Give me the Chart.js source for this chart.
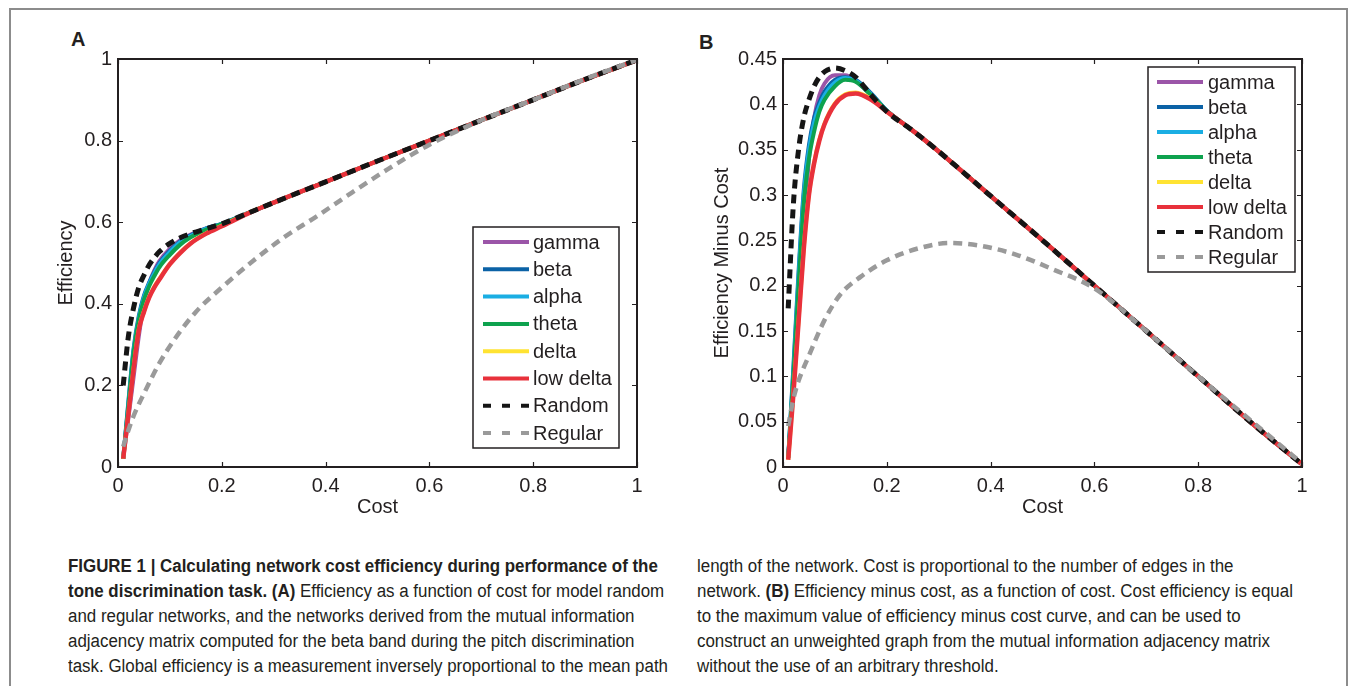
<!DOCTYPE html>
<html>
<head>
<meta charset="utf-8">
<script src="https://cdn.jsdelivr.net/npm/chart.js@4"></script>
<style>
  body { margin: 0; background: #fff; width: 1357px; height: 686px; overflow: hidden; position: relative;
         font-family: "Liberation Sans", Arial, sans-serif; }
  #frame { position: absolute; left: 9px; top: 8px; width: 1335px; height: 720px; border: 2px solid #8c8c8c; }
  canvas { position: absolute; }
  .panel { position: absolute; font-weight: bold; font-size: 20px; color: #231f20; }
  .cap { position: absolute; font-family: "Liberation Sans Narrow", "Liberation Sans", Arial, sans-serif;
         font-size: 18px; color: #231f20; white-space: nowrap; transform-origin: 0 0; line-height: 25px; }
</style>
</head>
<body>
<div id="frame"></div>
<div class="panel" style="left:71px;top:28px">A</div>
<div class="panel" style="left:699px;top:31px">B</div>
<canvas id="chartA" width="610" height="490" style="left:40px;top:40px"></canvas>
<canvas id="chartB" width="610" height="490" style="left:705px;top:40px"></canvas>

<div class="cap" style="left:68px;top:554px">
<div><b>FIGURE 1 | Calculating network cost efficiency during performance of the</b></div>
<div><b>tone discrimination task. (A)</b> Efficiency as a function of cost for model random</div>
<div>and regular networks, and the networks derived from the mutual information</div>
<div>adjacency matrix computed for the beta band during the pitch discrimination</div>
<div id="fitLine">task. Global efficiency is a measurement inversely proportional to the mean path</div>
</div>
<div class="cap" style="left:697px;top:554px">
<div>length of the network. Cost is proportional to the number of edges in the</div>
<div>network. <b>(B)</b> Efficiency minus cost, as a function of cost. Cost efficiency is equal</div>
<div>to the maximum value of efficiency minus cost curve, and can be used to</div>
<div>construct an unweighted graph from the mutual information adjacency matrix</div>
<div>without the use of an arbitrary threshold.</div>
</div>

<script>
// cost grid shared by the band curves and the random model
const cost = [0.01, 0.02, 0.03, 0.04, 0.05, 0.06, 0.07, 0.08, 0.1, 0.12, 0.14, 0.17, 0.2,
              0.25, 0.3, 0.4, 0.5, 0.6, 0.7, 0.8, 0.9, 1.0];
const regularCost = [0.01, 0.02, 0.03, 0.05, 0.08, 0.11, 0.15, 0.2, 0.26, 0.32, 0.38, 0.45,
                     0.52, 0.6, 0.7, 0.8, 0.9, 1.0];

// panel A: efficiency
const effGamma    = [0.02, 0.12, 0.22, 0.32, 0.40, 0.45, 0.482, 0.505, 0.535, 0.556, 0.57, 0.585, 0.596, 0.622, 0.648, 0.699, 0.75, 0.8, 0.85, 0.9, 0.95, 0.997];
const effBeta     = [0.02, 0.16, 0.29, 0.37, 0.42, 0.452, 0.478, 0.5, 0.53, 0.553, 0.568, 0.585, 0.596, 0.622, 0.648, 0.699, 0.75, 0.8, 0.85, 0.9, 0.95, 0.997];
const effAlpha    = [0.02, 0.155, 0.285, 0.365, 0.416, 0.449, 0.475, 0.497, 0.527, 0.551, 0.566, 0.584, 0.596, 0.622, 0.648, 0.699, 0.75, 0.8, 0.85, 0.9, 0.95, 0.997];
const effTheta    = [0.02, 0.15, 0.28, 0.36, 0.41, 0.443, 0.468, 0.49, 0.52, 0.545, 0.563, 0.582, 0.595, 0.622, 0.648, 0.699, 0.75, 0.8, 0.85, 0.9, 0.95, 0.997];
const effDelta    = [0.02, 0.132, 0.242, 0.337, 0.382, 0.417, 0.442, 0.462, 0.498, 0.526, 0.549, 0.573, 0.591, 0.622, 0.648, 0.699, 0.75, 0.8, 0.85, 0.9, 0.95, 0.997];
const effLowDelta = [0.02, 0.13, 0.24, 0.335, 0.38, 0.415, 0.44, 0.46, 0.497, 0.525, 0.548, 0.572, 0.59, 0.621, 0.648, 0.699, 0.75, 0.8, 0.85, 0.9, 0.95, 0.997];
const effRandom   = [0.2, 0.32, 0.39, 0.44, 0.47, 0.495, 0.513, 0.528, 0.548, 0.562, 0.572, 0.584, 0.596, 0.622, 0.648, 0.699, 0.75, 0.8, 0.85, 0.9, 0.95, 0.998];
const effRegular  = [0.05, 0.09, 0.125, 0.18, 0.255, 0.315, 0.38, 0.44, 0.505, 0.563, 0.612, 0.672, 0.73, 0.79, 0.85, 0.9, 0.951, 0.998];

// panel B: efficiency minus cost
const emcGamma    = [0.01, 0.09, 0.17, 0.26, 0.34, 0.385, 0.41, 0.423, 0.432, 0.432, 0.426, 0.41, 0.393, 0.371, 0.348, 0.299, 0.25, 0.2, 0.15, 0.1, 0.05, 0.003];
const emcBeta     = [0.01, 0.11, 0.215, 0.305, 0.355, 0.385, 0.402, 0.414, 0.427, 0.43, 0.427, 0.412, 0.393, 0.371, 0.348, 0.299, 0.25, 0.2, 0.15, 0.1, 0.05, 0.003];
const emcAlpha    = [0.01, 0.105, 0.21, 0.3, 0.35, 0.38, 0.398, 0.41, 0.424, 0.429, 0.426, 0.411, 0.393, 0.371, 0.348, 0.299, 0.25, 0.2, 0.15, 0.1, 0.05, 0.003];
const emcTheta    = [0.01, 0.1, 0.2, 0.29, 0.34, 0.37, 0.392, 0.405, 0.42, 0.427, 0.425, 0.41, 0.393, 0.371, 0.348, 0.299, 0.25, 0.2, 0.15, 0.1, 0.05, 0.003];
const emcDelta    = [0.008, 0.082, 0.162, 0.242, 0.301, 0.336, 0.361, 0.379, 0.401, 0.411, 0.413, 0.406, 0.392, 0.371, 0.348, 0.299, 0.25, 0.2, 0.15, 0.1, 0.05, 0.003];
const emcLowDelta = [0.008, 0.08, 0.16, 0.24, 0.3, 0.335, 0.36, 0.378, 0.4, 0.41, 0.412, 0.405, 0.392, 0.371, 0.348, 0.299, 0.25, 0.2, 0.15, 0.1, 0.05, 0.003];
const emcRandom   = [0.175, 0.29, 0.35, 0.385, 0.405, 0.42, 0.43, 0.436, 0.44, 0.437, 0.43, 0.41, 0.392, 0.371, 0.348, 0.299, 0.25, 0.2, 0.15, 0.1, 0.05, 0.003];
const emcRegular  = [0.045, 0.075, 0.095, 0.123, 0.162, 0.19, 0.21, 0.228, 0.241, 0.247, 0.244, 0.234, 0.218, 0.197, 0.15, 0.1, 0.052, 0.004];

const seriesNames = ['gamma', 'beta', 'alpha', 'theta', 'delta', 'low delta', 'Random', 'Regular'];
const colors = ['#9b55a8', '#0b62a6', '#1aaee3', '#0ea24e', '#ffe332', '#e8313b', '#151515', '#9a9a9a'];
const widths = [4, 4, 4, 4, 4, 4.5, 5, 4.5];
const xTicks = [0, 0.2, 0.4, 0.6, 0.8, 1];

Chart.defaults.font.family = '"Liberation Sans", Arial, sans-serif';
Chart.defaults.font.size = 20;
Chart.defaults.color = '#231f20';

function pts(xs, ys) { return xs.map((x, i) => ({ x: x, y: ys[i] })); }

function makeDatasets(lists) {
  return lists.map((ys, i) => ({
    label: seriesNames[i],
    data: pts(i === 7 ? regularCost : cost, ys),
    borderColor: colors[i],
    borderWidth: widths[i],
    borderDash: i >= 6 ? [9, 6] : [],
    borderCapStyle: 'butt',
    pointRadius: 0,
    cubicInterpolationMode: 'monotone',
    fill: false,
    order: 7 - i
  }));
}

// axes box with inward ticks on all four sides, like the original
const boxAxes = {
  id: 'boxAxes',
  afterDatasetsDraw(chart) {
    const { ctx, chartArea: a, scales } = chart;
    ctx.save();
    ctx.strokeStyle = '#231f20';
    ctx.lineWidth = 1.2;
    ctx.beginPath();
    scales.x.ticks.forEach(t => {
      const px = Math.round(scales.x.getPixelForValue(t.value)) + 0.5;
      ctx.moveTo(px, a.bottom); ctx.lineTo(px, a.bottom - 5);
      ctx.moveTo(px, a.top); ctx.lineTo(px, a.top + 5);
    });
    scales.y.ticks.forEach(t => {
      const py = Math.round(scales.y.getPixelForValue(t.value)) + 0.5;
      ctx.moveTo(a.left, py); ctx.lineTo(a.left + 5, py);
      ctx.moveTo(a.right, py); ctx.lineTo(a.right - 5, py);
    });
    ctx.stroke();
    ctx.lineWidth = 2;
    ctx.strokeRect(a.left, a.top, a.right - a.left, a.bottom - a.top);
    ctx.restore();
  }
};

// boxed legend inside the plot
const boxLegend = {
  id: 'boxLegend',
  afterDraw(chart, args, o) {
    const { ctx, chartArea: a } = chart;
    const x0 = a.left + o.left, y0 = a.top + o.top;
    ctx.save();
    ctx.fillStyle = '#fff';
    ctx.fillRect(x0, y0, o.width, o.height);
    ctx.strokeStyle = '#231f20';
    ctx.lineWidth = 1.5;
    ctx.strokeRect(x0, y0, o.width, o.height);
    ctx.font = '20px "Liberation Sans", Arial, sans-serif';
    ctx.textBaseline = 'middle';
    chart.data.datasets.forEach((d, i) => {
      const y = y0 + o.first + i * o.row;
      ctx.strokeStyle = d.borderColor;
      ctx.lineWidth = 4;
      ctx.setLineDash(d.borderDash.length ? [8, 11] : []);
      ctx.beginPath();
      ctx.moveTo(x0 + o.lineX, y); ctx.lineTo(x0 + o.lineX + 46, y);
      ctx.stroke();
      ctx.setLineDash([]);
      ctx.fillStyle = '#231f20';
      ctx.fillText(d.label, x0 + o.textX, y + 1);
    });
    ctx.restore();
  }
};

function fmt(v) { return String(Number(v.toFixed(2))); }

function makeChart(id, lists, yMax, yStep, yTitle, yTitlePad, legend) {
  return new Chart(document.getElementById(id), {
    type: 'line',
    data: { datasets: makeDatasets(lists) },
    plugins: [boxAxes, boxLegend],
    options: {
      responsive: false,
      animation: false,
      devicePixelRatio: 1,
      layout: { padding: { top: 19, right: 13, left: 0, bottom: 0 } },
      plugins: { legend: { display: false }, tooltip: { enabled: false }, boxLegend: legend },
      scales: {
        x: {
          type: 'linear', min: 0, max: 1,
          afterBuildTicks: s => { s.ticks = xTicks.map(v => ({ value: v })); },
          afterFit: s => { s.height = 63; },
          grid: { display: false, drawTicks: false },
          border: { display: false },
          ticks: { padding: 7, maxRotation: 0, callback: v => fmt(v) },
          title: { display: true, text: 'Cost', padding: { top: 0, bottom: 11 } }
        },
        y: {
          type: 'linear', min: 0, max: yMax,
          ticks: { stepSize: yStep, padding: 6, callback: v => fmt(v) },
          afterFit: s => { s.width = 78; },
          grid: { display: false, drawTicks: false },
          border: { display: false },
          title: { display: true, text: yTitle, padding: { top: yTitlePad, bottom: 0 } }
        }
      }
    }
  });
}

makeChart('chartA',
  [effGamma, effBeta, effAlpha, effTheta, effDelta, effLowDelta, effRandom, effRegular],
  1, 0.2, 'Efficiency', 14,
  { left: 355, top: 168, width: 146, height: 221, first: 15, row: 27.3, lineX: 10, textX: 60 });

makeChart('chartB',
  [emcGamma, emcBeta, emcAlpha, emcTheta, emcDelta, emcLowDelta, emcRandom, emcRegular],
  0.45, 0.05, 'Efficiency Minus Cost', 5,
  { left: 365, top: 8, width: 147, height: 205, first: 15, row: 25, lineX: 9, textX: 60 });

// squeeze caption text to the column width of the original
const fit = document.getElementById('fitLine');
const sc = 600 / fit.scrollWidth;
document.querySelectorAll('.cap').forEach(c => { c.style.transform = 'scaleX(' + sc + ')'; });
</script>
</body>
</html>
